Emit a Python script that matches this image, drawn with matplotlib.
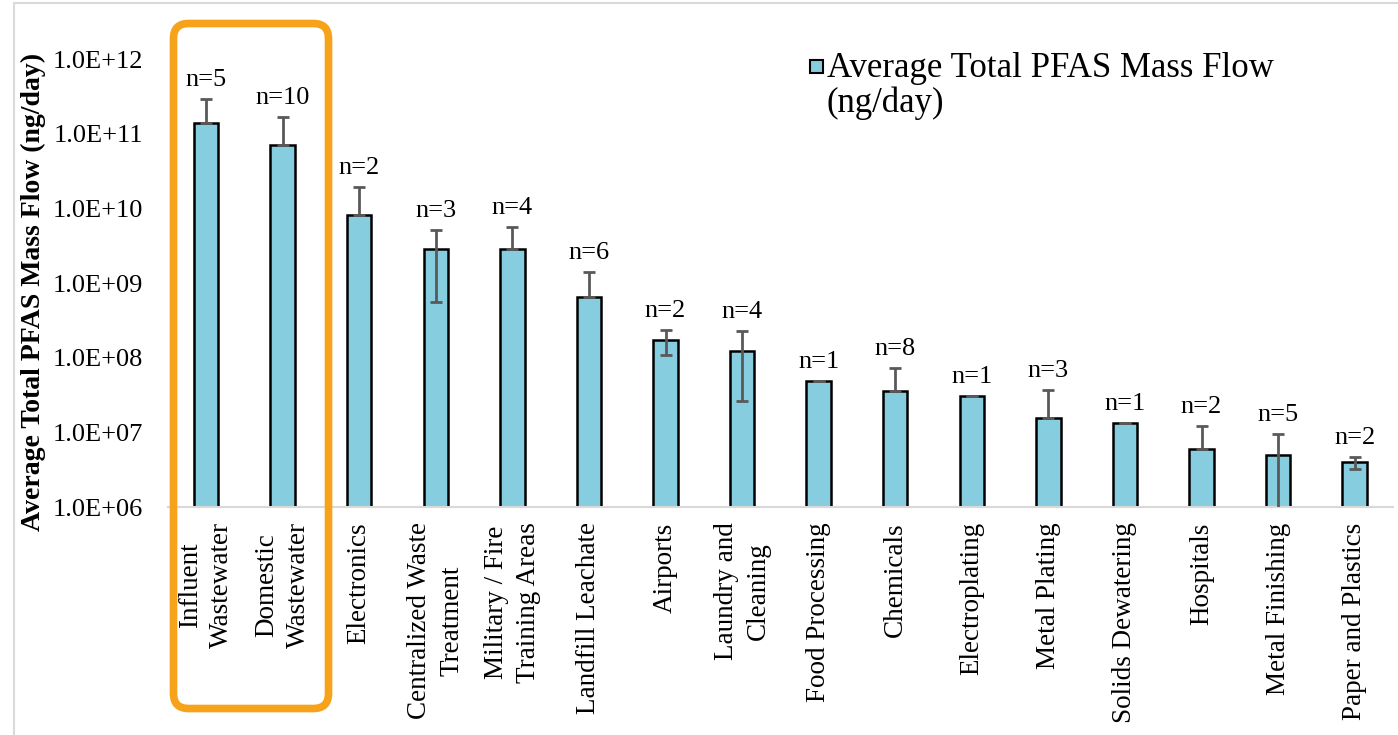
import numpy as np
import matplotlib
matplotlib.use("Agg")
from matplotlib import pyplot as plt
from matplotlib.patches import FancyBboxPatch, Rectangle

plt.rcParams["font.family"] = ["Liberation Serif", "DejaVu Serif"]

categories = ["Influent\nWastewater", "Domestic\nWastewater", "Electronics",
              "Centralized Waste\nTreatment", "Military / Fire\nTraining Areas",
              "Landfill Leachate", "Airports", "Laundry and\nCleaning",
              "Food Processing", "Chemicals", "Electroplating", "Metal Plating",
              "Solids Dewatering", "Hospitals", "Metal Finishing",
              "Paper and Plastics"]
mass_flow = [1.39e11, 7.05e10, 8.15e9, 2.85e9, 2.85e9, 6.5e8, 1.73e8, 1.23e8,
             4.87e7, 3.58e7, 3.07e7, 1.56e7, 1.33e7, 5.98e6, 4.98e6, 4.01e6]
err_plus = [1.52e11, 9.65e10, 1.115e10, 2.28e9, 2.77e9, 7.5e8, 6.2e7, 1.05e8,
            0, 3.7e7, 0, 2.13e7, 0, 6.2e6, 4.52e6, 6.7e5]
err_minus = [0, 0, 0, 2.29e9, 0, 0, 6.4e7, 9.67e7,
             0, 0, 0, 0, 0, 0, 4.5e6, 7.8e5]
n_samples = [5, 10, 2, 3, 4, 6, 2, 4, 1, 8, 1, 3, 1, 2, 5, 2]
ytick_labels = ["1.0E+06", "1.0E+07", "1.0E+08", "1.0E+09", "1.0E+10",
                "1.0E+11", "1.0E+12"]

bar_color = "#86CEDF"
err_color = "#595959"

fig = plt.figure(figsize=(13.98, 7.35), dpi=100)
ax = fig.add_axes([0.1200, 0.3102, 0.8764, 0.6095])

x = np.arange(len(categories))
ax.bar(x, mass_flow, width=0.32, color=bar_color, edgecolor="black",
       linewidth=1.8, zorder=2)
ax.errorbar(x, mass_flow, yerr=[err_minus, err_plus], fmt="none",
            ecolor=err_color, elinewidth=2, capsize=4.5, capthick=2, zorder=3)

# sample counts above each bar / whisker
for xi, v, e, n in zip(x, mass_flow, err_plus, n_samples):
    ax.annotate(f"n={n}", (xi, v + e), xytext=(0, 6), textcoords="offset points",
                ha="center", va="bottom", fontsize=19)

ax.set_yscale("log")
ax.set_ylim(1e6, 1e12)
ax.set_xlim(-0.5, len(categories) - 0.5)
ax.set_yticks([10.0 ** k for k in range(6, 13)])
ax.set_yticklabels(ytick_labels, fontsize=19)
ax.minorticks_off()
ax.set_xticks(x)
ax.set_xticklabels(categories, rotation=90, ha="center", va="top",
                   multialignment="center", fontsize=19.5, linespacing=1.36)
ax.tick_params(axis="y", length=0, pad=18)
ax.tick_params(axis="x", length=0, pad=11)
for side in ["top", "right", "left"]:
    ax.spines[side].set_visible(False)
ax.spines["bottom"].set_color("#D9D9D9")
ax.spines["bottom"].set_linewidth(1.5)

ax.set_ylabel("Average Total PFAS Mass Flow (ng/day)", fontsize=20,
              fontweight="bold")
ax.yaxis.set_label_coords(-0.099, 0.48)

# legend: swatch next to first line of the label
fig.patches.append(Rectangle((8.10, 7.35 - 0.73), 0.13, 0.13,
                             transform=fig.dpi_scale_trans, facecolor=bar_color,
                             edgecolor="black", linewidth=1.5))
fig.text(8.27, 7.35 - 0.86, "Average Total PFAS Mass Flow\n(ng/day)",
         transform=fig.dpi_scale_trans, ha="left", va="center", fontsize=25,
         linespacing=1.02)

# highlight box around the wastewater bars
fig.patches.append(FancyBboxPatch((1.735, 7.35 - 7.085), 1.55, 6.85,
                                  boxstyle="round,pad=0,rounding_size=0.15",
                                  transform=fig.dpi_scale_trans, fill=False,
                                  edgecolor="#F7A21B", linewidth=5.5))

# chart area border
fig.patches.append(Rectangle((0.14, -0.05), 14.0, 7.37,
                             transform=fig.dpi_scale_trans, fill=False,
                             edgecolor="#D9D9D9", linewidth=1.5))

fig.savefig("out.png", dpi=100)
